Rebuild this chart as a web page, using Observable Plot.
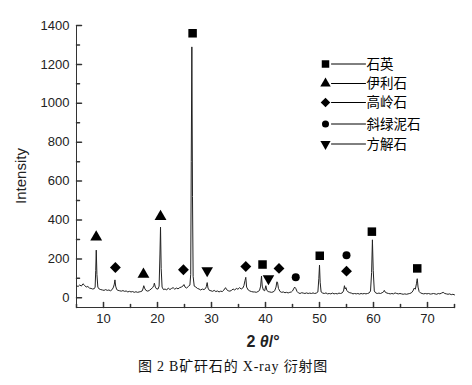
<!DOCTYPE html>
<html><head><meta charset="utf-8">
<script src="https://cdn.jsdelivr.net/npm/d3@7"></script>
<script src="https://cdn.jsdelivr.net/npm/@observablehq/plot@0.6"></script>
<style>body{margin:0;background:#fff;}#chart svg{display:block;}</style>
</head><body><div id="chart"></div>
<script>
// XRD trace: [2θ in degrees, intensity]
const tracePoints = [
  [5.0,62],[5.3,58],[5.6,66],[5.9,60],[6.2,72],[6.5,64],[6.8,55],[7.1,58],[7.4,50],[7.7,48],
  [8.0,45],[8.3,47],[8.45,55],[8.56,140],[8.66,245],[8.78,120],[8.95,55],[9.2,45],[9.5,42],[9.8,40],
  [10.1,38],[10.4,42],[10.7,38],[11.0,40],[11.3,36],[11.6,42],[11.85,55],[12.0,70],[12.12,92],[12.25,60],
  [12.45,42],[12.7,38],[13.0,36],[13.3,34],[13.6,37],[13.9,33],[14.2,35],[14.5,30],[14.8,33],[15.1,30],
  [15.4,32],[15.7,28],[16.0,31],[16.3,28],[16.6,30],[16.9,32],[17.15,35],[17.3,45],[17.46,62],[17.6,50],
  [17.85,38],[18.2,34],[18.5,38],[18.8,45],[19.1,52],[19.3,62],[19.42,75],[19.6,55],[19.85,45],[20.1,45],
  [20.3,60],[20.45,220],[20.56,363],[20.68,150],[20.85,55],[21.1,42],[21.4,45],[21.7,40],[22.0,50],[22.3,42],
  [22.6,48],[22.9,52],[23.2,44],[23.5,50],[23.8,46],[24.1,52],[24.4,55],[24.7,60],[24.9,68],[25.1,55],
  [25.4,50],[25.7,58],[26.0,65],[26.15,120],[26.25,700],[26.36,1290],[26.48,520],[26.6,110],[26.8,60],[27.1,55],
  [27.4,48],[27.7,45],[28.0,40],[28.3,45],[28.6,42],[28.9,48],[29.05,58],[29.2,78],[29.35,50],[29.6,38],
  [29.9,36],[30.2,33],[30.5,38],[30.8,32],[31.1,35],[31.4,30],[31.7,34],[32.0,32],[32.3,40],[32.6,52],
  [32.8,42],[33.1,36],[33.4,34],[33.7,38],[34.0,45],[34.3,40],[34.6,48],[34.9,44],[35.2,52],[35.5,45],
  [35.8,50],[36.0,62],[36.2,88],[36.35,105],[36.5,55],[36.8,40],[37.1,35],[37.4,32],[37.7,30],[38.0,30],
  [38.3,28],[38.6,32],[38.9,38],[39.1,60],[39.26,112],[39.4,60],[39.6,40],[39.85,36],[40.06,62],[40.25,38],
  [40.5,32],[40.8,30],[41.1,28],[41.4,30],[41.7,36],[41.95,55],[42.1,82],[42.22,80],[42.4,48],[42.7,32],
  [43.0,28],[43.3,30],[43.6,26],[43.9,28],[44.2,25],[44.5,28],[44.8,30],[45.0,35],[45.2,45],[45.4,55],
  [45.6,48],[45.85,32],[46.1,25],[46.4,22],[46.7,26],[47.0,24],[47.3,22],[47.6,25],[47.9,22],[48.2,24],
  [48.5,22],[48.8,25],[49.1,22],[49.4,24],[49.7,30],[49.88,100],[50.0,168],[50.12,80],[50.3,30],[50.6,24],
  [50.9,22],[51.2,25],[51.5,20],[51.8,22],[52.1,20],[52.4,24],[52.7,20],[53.0,22],[53.3,20],[53.6,24],
  [53.9,22],[54.2,25],[54.45,35],[54.62,62],[54.75,45],[54.9,52],[55.05,38],[55.3,30],[55.6,26],[55.9,24],
  [56.2,20],[56.5,22],[56.8,20],[57.1,22],[57.4,19],[57.7,22],[58.0,20],[58.3,22],[58.6,20],[58.9,22],
  [59.2,25],[59.45,35],[59.65,130],[59.8,298],[59.95,140],[60.15,35],[60.4,25],[60.7,22],[61.0,24],[61.3,22],
  [61.6,26],[61.85,30],[62.0,38],[62.2,28],[62.5,24],[62.8,22],[63.1,20],[63.4,22],[63.7,20],[64.0,25],
  [64.3,22],[64.6,20],[64.9,22],[65.2,20],[65.5,18],[65.8,20],[66.1,18],[66.4,20],[66.7,22],[67.0,25],
  [67.3,35],[67.55,50],[67.75,44],[67.95,72],[68.1,98],[68.25,55],[68.45,32],[68.7,25],[69.0,22],[69.3,20],
  [69.6,22],[69.9,20],[70.2,22],[70.5,19],[70.8,20],[71.1,22],[71.4,20],[71.7,18],[72.0,22],[72.3,20],
  [72.6,24],[72.9,28],[73.2,22],[73.5,20],[73.8,18],[74.1,20],[74.4,16],[74.7,18],[75.0,15]
];

// phase markers above the peaks
const markerPhase = ["伊利石","高岭石","伊利石","伊利石","高岭石","石英","方解石","高岭石","石英","方解石","高岭石","斜绿泥石","石英","斜绿泥石","高岭石","石英","石英"];
const markerX = [8.65,12.2,17.4,20.56,24.8,26.5,29.2,36.35,39.45,40.55,42.5,45.6,50.05,55.0,55.0,59.7,68.1];
const markerY = [312,156,120,418,144,1360,140,161,171,99,151,106,216,219,137,340,151];

// legend
const legendPhases = ["石英","伊利石","高岭石","斜绿泥石","方解石"];

// axes
const xDomain = [5, 75];
const yDomain = [-50, 1400];
const xTicks = [10,20,30,40,50,60,70];
const xMinorTicks = [5,15,25,35,45,55,65,75];
const yTicks = [0,200,400,600,800,1000,1200,1400];
const yMinorTicks = [100,300,500,700,900,1100,1300];

const sqrt3 = Math.sqrt(3);
const triangleDown = {
  draw(context, size) {
    const y = -Math.sqrt(size / (sqrt3 * 3));
    context.moveTo(0, -y * 2);
    context.lineTo(-sqrt3 * y, y);
    context.lineTo(sqrt3 * y, y);
    context.closePath();
  }
};
const tickShape = {draw(context, l) { context.moveTo(0, 0); context.lineTo(0, -l); }};
const symbolStyle = {
  "石英": {symbol: "square", r: 4.8},
  "伊利石": {symbol: "triangle", r: 4.4},
  "高岭石": {symbol: "diamond2", r: 4.9},
  "斜绿泥石": {symbol: "circle", r: 4},
  "方解石": {symbol: triangleDown, r: 4.3}
};

const trace = tracePoints.map(([x, y]) => ({x, y}));
const markers = markerX.map((x, i) => ({x, y: markerY[i], phase: markerPhase[i]}));
const axisColor = "#333";

const marks = [
  Plot.ruleX([xDomain[0]], {stroke: axisColor}),
  Plot.ruleY([yDomain[0]], {stroke: axisColor}),
  Plot.vector(xTicks, {x: d => d, frameAnchor: "bottom", length: 5, rotate: 0, anchor: "start", shape: tickShape, stroke: axisColor}),
  Plot.vector(xMinorTicks, {x: d => d, frameAnchor: "bottom", length: 3, rotate: 0, anchor: "start", shape: tickShape, stroke: axisColor}),
  Plot.vector(yTicks, {y: d => d, frameAnchor: "left", length: 5, rotate: 90, anchor: "start", shape: tickShape, stroke: axisColor}),
  Plot.vector(yMinorTicks, {y: d => d, frameAnchor: "left", length: 3, rotate: 90, anchor: "start", shape: tickShape, stroke: axisColor}),
  Plot.axisX({ticks: xTicks, tickSize: 0, tickPadding: 6, label: null, fill: "#222", fontSize: 13}),
  Plot.axisY({ticks: yTicks, tickSize: 0, tickPadding: 7, tickFormat: d3.format("d"), label: null, fill: "#222", fontSize: 13}),
  Plot.line(trace, {x: "x", y: "y", stroke: "#222", strokeWidth: 1})
];
for (const phase of legendPhases) {
  const s = symbolStyle[phase];
  marks.push(Plot.dot(markers.filter(d => d.phase === phase), {x: "x", y: "y", symbol: s.symbol, r: s.r, fill: "#000", stroke: "none"}));
}
const legendRowY = [38.5, 58, 77, 98.5, 118.5];
legendPhases.forEach((phase, i) => {
  const s = symbolStyle[phase];
  marks.push(Plot.dot([phase], {frameAnchor: "top-left", dx: 249, dy: legendRowY[i], symbol: s.symbol, r: s.r * 0.88, fill: "#000", stroke: "none"}));
  marks.push(Plot.vector([phase], {frameAnchor: "top-left", dx: 255, dy: legendRowY[i], length: 34, rotate: 90, anchor: "start", shape: tickShape, stroke: "#000", strokeWidth: 1}));
  marks.push(Plot.text([phase], {frameAnchor: "top-left", dx: 290, dy: legendRowY[i] - 5, text: d => d, textAnchor: "start", fontSize: 13.5, fill: "#000", fontFamily: "Noto Sans CJK SC"}));
});

const chart = Plot.plot({
  width: 472,
  height: 385,
  marginTop: 25,
  marginLeft: 76,
  marginRight: 18,
  marginBottom: 78,
  style: {fontFamily: "'Liberation Sans', Arial, sans-serif", fontSize: "13px", color: "#222", background: "#fff"},
  x: {domain: xDomain},
  y: {domain: yDomain},
  marks
});

const svg = d3.select(chart);
// axis titles
const xl = svg.append("text").attr("x", 263).attr("y", 343).attr("text-anchor", "middle").attr("dominant-baseline", "middle")
  .attr("font-family", "'Liberation Sans', Arial, sans-serif").attr("font-size", 16).attr("font-weight", "bold").attr("fill", "#222");
xl.append("tspan").text("2 ");
xl.append("tspan").attr("font-style", "italic").text("θ");
xl.append("tspan").text("/°");
svg.append("text").attr("transform", "translate(22,176) rotate(-90)").attr("text-anchor", "middle").attr("dominant-baseline", "middle")
  .attr("font-family", "'Liberation Sans', Arial, sans-serif").attr("font-size", 15).attr("fill", "#222").text("Intensity");
// caption
svg.append("text").attr("x", 233).attr("y", 368).attr("text-anchor", "middle").attr("dominant-baseline", "middle")
  .attr("font-family", "'Liberation Serif', 'Noto Sans CJK SC', serif").attr("font-size", 14).attr("letter-spacing", 0.8).attr("fill", "#111")
  .text("图 2 B矿矸石的 X-ray 衍射图");

document.getElementById("chart").appendChild(chart);
</script>
</body></html>
